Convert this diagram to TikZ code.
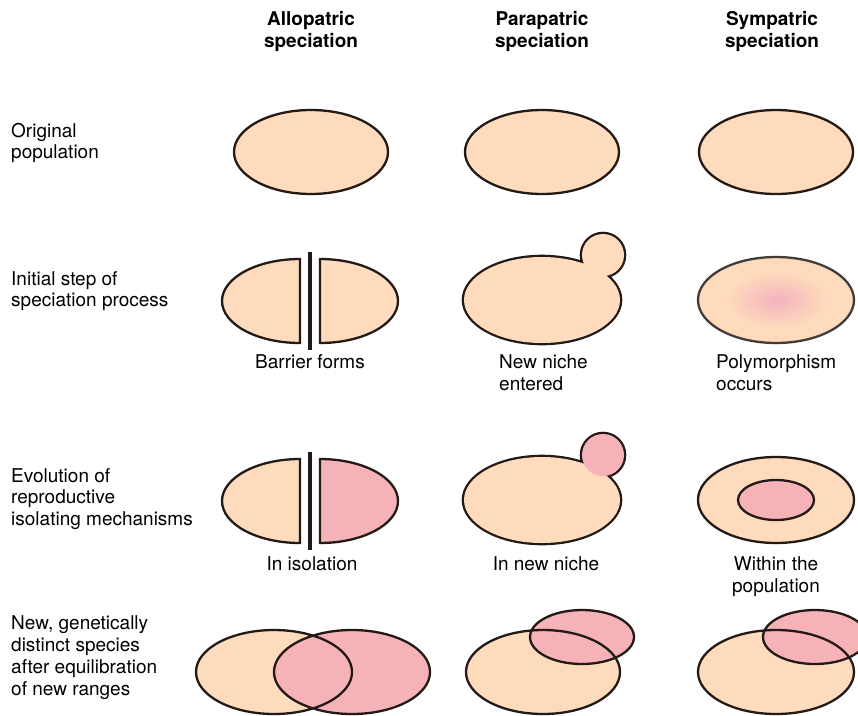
\documentclass[tikz,border=0pt]{standalone}
\usepackage{fontspec}
\setmainfont{TeX Gyre Heros}
\usepackage{tikz}
\usetikzlibrary{positioning}
\usepackage{xcolor}
\definecolor{beige}{RGB}{253,219,188}
\definecolor{rosepink}{RGB}{245,179,184}
\definecolor{blushcore}{RGB}{244,178,190}
\definecolor{edge}{RGB}{35,25,22}

\tikzset{
  popline/.style={draw=edge, line width=2.3pt},
  budline/.style={draw=edge, line width=4.6pt},
  barrier/.style={draw=edge, line width=3.2pt},
  colhead/.style={font=\bfseries\fontsize{19}{22}\selectfont, align=center, anchor=base, inner sep=0pt},
  rowlabel/.style={font=\fontsize{19}{21.7}\selectfont, align=left, anchor=base west, inner sep=0pt},
  sublabel/.style={font=\fontsize{19}{22}\selectfont, align=center, anchor=base, inner sep=0pt},
  sublabelleft/.style={font=\fontsize{19}{22}\selectfont, align=left, anchor=base west, inner sep=0pt}
}

\begin{document}
\begin{tikzpicture}[x=1pt, y=-1pt]
  \useasboundingbox (0,0) rectangle (858,715);

  % column heads (base = last line)
  \node[colhead] (allohead) at (311,47) {Allopatric\\speciation};
  \node[colhead] (parahead) at (542,47) {Parapatric\\speciation};
  \node[colhead] (symphead) at (772,47) {Sympatric\\speciation};

  % row labels
  \node[rowlabel] (origlabel) at (11,158.7) {Original\\population};
  \node[rowlabel] (initlabel) at (11,306.7) {Initial step of\\speciation process};
  \node[rowlabel] (evollabel) at (11,525.4) {Evolution of\\reproductive\\isolating mechanisms};
  \node[rowlabel] (newlabel) at (11,695) {New, genetically\\distinct species\\after equilibration\\of new ranges};

  % original population
  \filldraw[popline, fill=beige] (311,152) ellipse [x radius=77, y radius=42];
  \filldraw[popline, fill=beige] (542,152) ellipse [x radius=77, y radius=42];
  \filldraw[popline, fill=beige] (776,152) ellipse [x radius=77, y radius=42];

  % initial step
  \filldraw[popline, fill=beige] (300,343) arc [start angle=90, end angle=270, x radius=78, y radius=42] -- cycle;
  \filldraw[popline, fill=beige] (320,259) arc [start angle=-90, end angle=90, x radius=78, y radius=42] -- cycle;
  \draw[barrier] (310,252) -- (310,350);
  \node[sublabel] (barrierlabel) at (310,368) {Barrier forms};

  \draw[budline] (542,300) ellipse [x radius=78, y radius=43] (603,255) circle [radius=21];
  \fill[beige] (542,300) ellipse [x radius=78, y radius=43] (603,255) circle [radius=21];
  \node[sublabelleft] (nichelabel) at (499,390) {New niche\\entered};

  \filldraw[popline, draw=edge!85, fill=beige] (776,300) ellipse [x radius=78, y radius=43];
  \shade[inner color=blushcore, outer color=beige] (777,300) ellipse [x radius=50, y radius=28];
  \node[sublabelleft] (polylabel) at (716,390) {Polymorphism\\occurs};

  % isolating mechanisms
  \filldraw[popline, fill=beige] (300,543) arc [start angle=90, end angle=270, x radius=78, y radius=42] -- cycle;
  \filldraw[popline, fill=rosepink] (320,459) arc [start angle=-90, end angle=90, x radius=78, y radius=42] -- cycle;
  \draw[barrier] (310,452) -- (310,550);
  \node[sublabel] (isolabel) at (312,570) {In isolation};

  \draw[budline] (542,500) ellipse [x radius=78, y radius=43] (603,455) circle [radius=21];
  \fill[beige] (542,500) ellipse [x radius=78, y radius=43];
  \fill[rosepink] (603,455) circle [radius=21];
  \node[sublabel] (inniche) at (546,570) {In new niche};

  \filldraw[popline, fill=beige] (776,500) ellipse [x radius=78, y radius=43];
  \filldraw[popline, fill=rosepink] (776,500) ellipse [x radius=38, y radius=20];
  \node[sublabel] (withinlabel) at (776,592) {Within the\\population};

  % new species
  \fill[beige] (274,672) ellipse [x radius=78, y radius=42];
  \fill[rosepink] (352,672) ellipse [x radius=78, y radius=42];
  \draw[popline] (274,672) ellipse [x radius=78, y radius=42] (352,672) ellipse [x radius=78, y radius=42];

  \fill[beige] (543,672) ellipse [x radius=77, y radius=42];
  \fill[rosepink] (582,637) ellipse [x radius=52, y radius=27];
  \draw[popline] (543,672) ellipse [x radius=77, y radius=42] (582,637) ellipse [x radius=52, y radius=27];

  \fill[beige] (776,672) ellipse [x radius=78, y radius=42];
  \fill[rosepink] (815,637) ellipse [x radius=52, y radius=27];
  \draw[popline] (776,672) ellipse [x radius=78, y radius=42] (815,637) ellipse [x radius=52, y radius=27];
\end{tikzpicture}
\end{document}
